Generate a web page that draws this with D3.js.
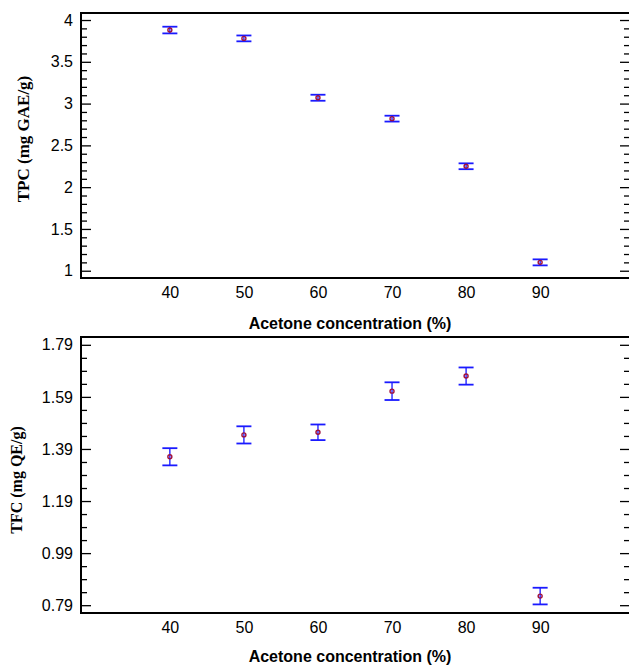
<!DOCTYPE html>
<html>
<head>
<meta charset="utf-8">
<script src="https://cdn.jsdelivr.net/npm/d3@7/dist/d3.min.js"></script>
<style>
  body { margin: 0; background: #fff; }
  svg { display: block; }
</style>
</head>
<body>
<div id="chart"></div>
<script>
// acetone concentration (%)
const conc = [40, 50, 60, 70, 80, 90];

// total phenolic content, mg GAE/g
const tpc = [3.88, 3.78, 3.07, 2.82, 2.25, 1.10];
const tpcErr = [0.04, 0.035, 0.036, 0.035, 0.035, 0.036];

// total flavonoid content, mg QE/g
const tfc = [1.36, 1.444, 1.454, 1.612, 1.67, 0.825];
const tfcErr = [0.033, 0.033, 0.03, 0.034, 0.033, 0.032];

// tick labels
const tpcTicks = [1, 1.5, 2, 2.5, 3, 3.5, 4];
const tpcMinor = [1.1, 1.2, 1.3, 1.4, 1.6, 1.7, 1.8, 1.9, 2.1, 2.2, 2.3, 2.4, 2.6, 2.7, 2.8, 2.9,
                  3.1, 3.2, 3.3, 3.4, 3.6, 3.7, 3.8, 3.9];
const tfcTicks = [0.79, 0.99, 1.19, 1.39, 1.59, 1.79];
const tfcMinor = [0.84, 0.89, 0.94, 1.04, 1.09, 1.14, 1.24, 1.29, 1.34, 1.44, 1.49, 1.54,
                  1.64, 1.69, 1.74];

const xTitle = "Acetone concentration (%)";

const width = 629, height = 665;
const left = 81, right = 629;

const svg = d3.select("#chart").append("svg")
  .attr("width", width)
  .attr("height", height);

const x = d3.scaleLinear().domain([28, 102]).range([left, right]);

function drawPanel(opt) {
  const y = d3.scaleLinear().domain(opt.domain).range([opt.bottom, opt.top]);
  const g = svg.append("g");

  // left axis, ticks pointing inward
  const yAxis = g.append("g")
    .attr("transform", "translate(" + left + ",0)")
    .call(d3.axisLeft(y).tickValues(opt.ticks).tickFormat(opt.fmt)
      .tickSizeInner(-10).tickSizeOuter(0).tickPadding(8));
  yAxis.select(".domain").remove();
  yAxis.selectAll(".tick line").attr("stroke", "#000").attr("stroke-width", 1.3);
  yAxis.selectAll(".tick text")
    .style("font-family", "'Liberation Sans', Arial, sans-serif")
    .style("font-size", "16px")
    .attr("fill", "#000");

  const yMinor = g.append("g")
    .attr("transform", "translate(" + left + ",0)")
    .call(d3.axisLeft(y).tickValues(opt.minor).tickFormat("")
      .tickSizeInner(-6).tickSizeOuter(0));
  yMinor.select(".domain").remove();
  yMinor.selectAll(".tick line").attr("stroke", "#000").attr("stroke-width", 1.3);

  // right side ticks, inward
  const yRight = g.append("g")
    .attr("transform", "translate(" + right + ",0)")
    .call(d3.axisRight(y).tickValues(opt.ticks).tickFormat("")
      .tickSizeInner(-9).tickSizeOuter(0));
  yRight.select(".domain").remove();
  yRight.selectAll(".tick line").attr("stroke", "#000").attr("stroke-width", 1.3);

  const yRightMinor = g.append("g")
    .attr("transform", "translate(" + right + ",0)")
    .call(d3.axisRight(y).tickValues(opt.minor).tickFormat("")
      .tickSizeInner(-5).tickSizeOuter(0));
  yRightMinor.select(".domain").remove();
  yRightMinor.selectAll(".tick line").attr("stroke", "#000").attr("stroke-width", 1.3);

  // bottom axis, labels only
  const xAxis = g.append("g")
    .attr("transform", "translate(0," + opt.bottom + ")")
    .call(d3.axisBottom(x).tickValues(conc).tickSize(0).tickPadding(9));
  xAxis.select(".domain").remove();
  xAxis.selectAll(".tick text")
    .style("font-family", "'Liberation Sans', Arial, sans-serif")
    .style("font-size", "16px")
    .attr("fill", "#000");

  // frame: top, left, bottom
  g.append("line")
    .attr("x1", left).attr("x2", right)
    .attr("y1", opt.top).attr("y2", opt.top)
    .attr("stroke", "#000").attr("stroke-width", 2);
  g.append("line")
    .attr("x1", left).attr("x2", right)
    .attr("y1", opt.bottom).attr("y2", opt.bottom)
    .attr("stroke", "#000").attr("stroke-width", 2);
  g.append("line")
    .attr("x1", left).attr("x2", left)
    .attr("y1", opt.top - 1).attr("y2", opt.bottom + 1)
    .attr("stroke", "#000").attr("stroke-width", 2);

  // error bars
  const capW = 7.5;
  const bars = g.selectAll(".err").data(opt.values).enter().append("g");
  bars.append("line")
    .attr("x1", (d, i) => x(conc[i])).attr("x2", (d, i) => x(conc[i]))
    .attr("y1", (d, i) => y(d + opt.err[i])).attr("y2", (d, i) => y(d - opt.err[i]))
    .attr("stroke", "#0000ff").attr("stroke-width", 1.2);
  bars.append("line")
    .attr("x1", (d, i) => x(conc[i]) - capW).attr("x2", (d, i) => x(conc[i]) + capW)
    .attr("y1", (d, i) => y(d + opt.err[i])).attr("y2", (d, i) => y(d + opt.err[i]))
    .attr("stroke", "#1a1aff").attr("stroke-width", 1.8);
  bars.append("line")
    .attr("x1", (d, i) => x(conc[i]) - capW).attr("x2", (d, i) => x(conc[i]) + capW)
    .attr("y1", (d, i) => y(d - opt.err[i])).attr("y2", (d, i) => y(d - opt.err[i]))
    .attr("stroke", "#1a1aff").attr("stroke-width", 1.8);

  // mean markers
  g.selectAll(".pt").data(opt.values).enter().append("circle")
    .attr("cx", (d, i) => x(conc[i]))
    .attr("cy", d => y(d))
    .attr("r", 2)
    .attr("fill", "none")
    .attr("stroke", "#a0103c")
    .attr("stroke-width", 1.4);

  // axis titles
  svg.append("text")
    .attr("x", 350)
    .attr("y", opt.xTitleY)
    .attr("text-anchor", "middle")
    .style("font-family", "'Liberation Sans', Arial, sans-serif")
    .style("font-size", "16px")
    .style("font-weight", "bold")
    .text(xTitle);

  svg.append("text")
    .attr("transform", "translate(" + opt.yTitleX + "," + opt.yTitleMid + ") rotate(-90)")
    .attr("text-anchor", "middle")
    .style("font-family", "'Liberation Serif', 'Times New Roman', serif")
    .style("font-size", opt.yTitleSize + "px")
    .style("font-weight", "bold")
    .text(opt.yTitle);
}

drawPanel({
  top: 13, bottom: 278, domain: [0.913, 4.084],
  ticks: tpcTicks, minor: tpcMinor, fmt: d3.format("~g"),
  values: tpc, err: tpcErr,
  xTitleY: 329, yTitle: "TPC (mg GAE/g)", yTitleX: 29, yTitleMid: 139, yTitleSize: 17
});

drawPanel({
  top: 337, bottom: 613, domain: [0.76, 1.82],
  ticks: tfcTicks, minor: tfcMinor, fmt: d3.format(".2f"),
  values: tfc, err: tfcErr,
  xTitleY: 662, yTitle: "TFC (mg QE/g)", yTitleX: 22, yTitleMid: 480, yTitleSize: 16
});
</script>
</body>
</html>
